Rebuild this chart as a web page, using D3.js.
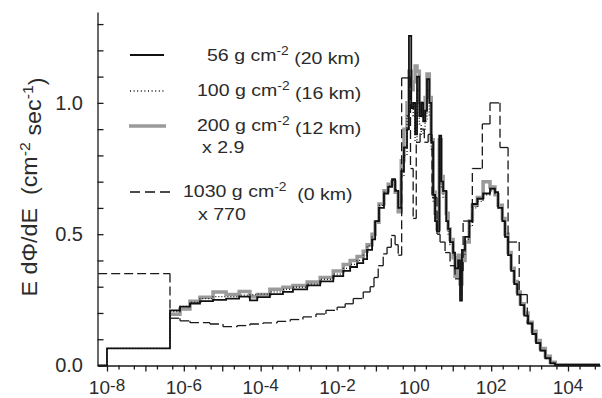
<!DOCTYPE html>
<html>
<head>
<meta charset="utf-8">
<script src="https://cdn.jsdelivr.net/npm/d3@7"></script>
<style>
  body { margin: 0; background: #fff; }
  svg { display: block; }
  text { font-family: Arial, "Liberation Sans", sans-serif; fill: #2b2b2b; white-space: pre; }
</style>
</head>
<body>
<div class="chart"></div>
<script>
// bin lower edges, log10(E / MeV), shared by the three altitude spectra
const binEdges = [-8.23, -8.00, -6.36, -6.10, -5.84, -5.58, -5.24, -4.90, -4.56, -4.28,
    -4.09, -3.76, -3.42, -3.16, -2.79, -2.45, -2.11, -1.85, -1.67, -1.49,
    -1.33, -1.23, -1.10, -1.02, -0.92, -0.79, -0.68, -0.58, -0.50, -0.42,
    -0.34, -0.27, -0.19, -0.14, -0.08, -0.03, 0.02, 0.07, 0.13, 0.18,
    0.23, 0.28, 0.33, 0.39, 0.44, 0.49, 0.54, 0.59, 0.65, 0.70,
    0.75, 0.83, 0.88, 0.93, 1.01, 1.06, 1.14, 1.19, 1.24, 1.32,
    1.43, 1.51, 1.64, 1.79, 1.97, 2.10, 2.18, 2.29, 2.36, 2.44,
    2.52, 2.60, 2.68, 2.76, 2.86, 2.96, 3.07, 3.17, 3.28, 3.41,
    3.54, 3.67];

// 56 g cm-2 (20 km)
const flux56 = [0, 0.065, 0.21, 0.224, 0.236, 0.245, 0.25, 0.255, 0.262, 0.248,
    0.26, 0.272, 0.28, 0.29, 0.305, 0.32, 0.34, 0.36, 0.375, 0.39,
    0.405, 0.44, 0.48, 0.55, 0.6, 0.655, 0.68, 0.71, 0.665, 0.6,
    0.74, 0.83, 0.9, 1.255, 0.98, 1.0, 0.88, 1.1, 0.95, 1.0,
    0.93, 0.97, 1.09, 1.0, 0.85, 0.65, 0.55, 0.51, 0.875, 0.7,
    0.665, 0.55, 0.52, 0.47, 0.43, 0.37, 0.4, 0.247, 0.44, 0.49,
    0.55, 0.615, 0.635, 0.655, 0.673, 0.66, 0.6, 0.55, 0.49, 0.42,
    0.36, 0.31, 0.27, 0.23, 0.19, 0.16, 0.12, 0.085, 0.057, 0.027,
    0.008, 0.002];

// 100 g cm-2 (16 km)
const flux100 = [0, 0.065, 0.205, 0.225, 0.24, 0.255, 0.262, 0.262, 0.268, 0.27,
    0.272, 0.28, 0.29, 0.298, 0.31, 0.328, 0.348, 0.37, 0.385, 0.4,
    0.42, 0.455, 0.49, 0.55, 0.61, 0.66, 0.685, 0.705, 0.67, 0.62,
    0.72, 0.8, 0.95, 1.1, 1.0, 0.95, 0.85, 1.05, 0.92, 0.88,
    0.9, 0.93, 1.05, 0.95, 0.82, 0.62, 0.55, 0.5, 0.82, 0.68,
    0.64, 0.55, 0.5, 0.46, 0.42, 0.37, 0.38, 0.27, 0.42, 0.48,
    0.53, 0.6, 0.625, 0.65, 0.665, 0.655, 0.6, 0.55, 0.49, 0.42,
    0.36, 0.31, 0.27, 0.23, 0.19, 0.16, 0.12, 0.085, 0.057, 0.03,
    0.01, 0.002];

// 200 g cm-2 (12 km) x 2.9
const flux200 = [null, null, 0.195, 0.215, 0.245, 0.26, 0.28, 0.27, 0.282, 0.262,
    0.27, 0.29, 0.298, 0.305, 0.318, 0.335, 0.36, 0.385, 0.4, 0.415,
    0.435, 0.46, 0.5, 0.545, 0.615, 0.665, 0.69, 0.7, 0.66, 0.585,
    0.78, 0.9, 1.0, 1.12, 1.05, 1.08, 1.14, 1.12, 1.0, 0.97,
    0.95, 1.02, 1.11, 1.02, 0.86, 0.66, 0.58, 0.52, 0.86, 0.72,
    0.66, 0.58, 0.52, 0.48, 0.41, 0.34, 0.42, 0.31, 0.4, 0.47,
    0.55, 0.61, 0.64, 0.7, 0.68, 0.65, 0.61, 0.56, 0.5, 0.43,
    0.37, 0.32, 0.28, 0.235, 0.2, 0.165, 0.13, 0.095, 0.065, 0.035,
    0.012, 0.003];

// 1030 g cm-2 (0 km) x 770, coarser binning
const binEdges1030 = [-8.23, -6.36, -6.10, -5.84, -5.32, -4.98, -4.61, -4.28, -3.94, -3.57,
    -3.23, -2.90, -2.56, -2.30, -2.01, -1.80, -1.59, -1.33, -1.15, -1.05,
    -0.94, -0.81, -0.71, -0.60, -0.50, -0.42, -0.33, -0.10, -0.03, 0.05,
    0.15, 0.26, 0.36, 0.46, 0.59, 0.67, 0.80, 0.93, 1.06, 1.19,
    1.27, 1.51, 1.77, 1.97, 2.23, 2.44, 2.73, 2.94, 3.07, 3.17,
    3.28, 3.41, 3.54, 3.67];
const flux1030 = [0.35, 0.18, 0.17, 0.163, 0.158, 0.148, 0.152, 0.158, 0.162, 0.168,
    0.175, 0.185, 0.196, 0.21, 0.222, 0.235, 0.255, 0.28, 0.30, 0.335,
    0.38, 0.425, 0.45, 0.495, 0.46, 0.42, 1.095, 0.75, 0.56, 0.85,
    0.9, 0.85, 0.88, 0.64, 0.5, 0.47, 0.43, 0.38, 0.33, 0.36,
    0.55, 0.75, 0.92, 1.0, 0.83, 0.47, 0.27, 0.16, 0.12, 0.085,
    0.057, 0.027, 0.008, 0.002];

const xDecades = [-8, -7, -6, -5, -4, -3, -2, -1, 0, 1, 2, 3, 4];
const xLabelled = [-8, -6, -4, -2, 0, 2, 4];
const yTicks = [0, 0.1, 0.2, 0.3, 0.4, 0.5, 0.6, 0.7, 0.8, 0.9, 1.0, 1.1, 1.2, 1.3];
const yLabelled = [0, 0.5, 1.0];

const legendItems = [
    {name: "56 g cm", alt: " (20 km)", note: null},
    {name: "100 g cm", alt: " (16 km)", note: null},
    {name: "200 g cm", alt: " (12 km)", note: "x 2.9"},
    {name: "1030 g cm", alt: "  (0 km)", note: "x 770"}
];

const W = 602, H = 398;
const logMin = -8.247, logMax = 4.833;

let svg = d3.select('.chart').append('svg').attr('width', W).attr('height', H);

let x = d3.scaleLog().domain([Math.pow(10, logMin), Math.pow(10, logMax)]).range([97.5, 600]);
let y = d3.scaleLinear().domain([0, 1.346]).range([365.5, 12]);
let xl = e => x(Math.pow(10, e));

function steps(edges, vals){
    let pts = edges.map((e, i) => [e, vals[i]]);
    pts.push([logMax, vals[vals.length - 1]]);
    return pts;
}

let line = d3.line()
    .defined(d => d[1] != null)
    .x(d => xl(d[0]))
    .y(d => y(d[1]))
    .curve(d3.curveStepAfter);

// gray 200 g
svg.append('path').attr('d', line(steps(binEdges, flux200)))
    .attr('fill', 'none').attr('stroke', '#9a9a9a').attr('stroke-width', 3.5);

// dashed 1030 g: each step segment dashed on its own, so short steps look solid
let pts = steps(binEdges1030, flux1030);
let segs = [];
for(let i = 0; i < pts.length - 1; i++){
    segs.push([pts[i][0], pts[i][1], pts[i+1][0], pts[i][1]]);
    if(i < pts.length - 2){
        segs.push([pts[i+1][0], pts[i][1], pts[i+1][0], pts[i+1][1]]);
    }
}
svg.append('g').selectAll('line').data(segs).enter().append('line')
    .attr('x1', d => xl(d[0])).attr('y1', d => y(d[1]))
    .attr('x2', d => xl(d[2])).attr('y2', d => y(d[3]))
    .attr('stroke', '#1a1a1a').attr('stroke-width', 1.3)
    .attr('stroke-dasharray', '9,4');

// dotted 100 g
svg.append('path').attr('d', line(steps(binEdges, flux100)))
    .attr('fill', 'none').attr('stroke', '#1a1a1a').attr('stroke-width', 1.3)
    .attr('stroke-dasharray', '1,2');

// solid 56 g
svg.append('path').attr('d', line(steps(binEdges, flux56)))
    .attr('fill', 'none').attr('stroke', '#111').attr('stroke-width', 1.8);

// axes
let yAxis = d3.axisLeft(y).tickValues(yTicks).tickSizeInner(-6).tickSizeOuter(0)
    .tickPadding(14.5)
    .tickFormat(d => yLabelled.some(v => Math.abs(v - d) < 1e-9) ? d3.format('.1f')(d) : '');
let gy = svg.append('g').attr('transform', 'translate(97.5,0)').call(yAxis);
gy.selectAll('text').style('font-size', '20px').style('fill', '#2b2b2b');

let minor = [];
xDecades.forEach(dd => { minor.push(2 * Math.pow(10, dd)); minor.push(5 * Math.pow(10, dd)); });
minor = minor.filter(v => x(v) <= 600);

let gx = svg.append('g').attr('transform', 'translate(0,365.5)');
gx.call(d3.axisBottom(x).tickValues(xDecades.map(d => Math.pow(10, d))).tickSizeInner(6)
    .tickSizeOuter(0).tickFormat(''));
gx.append('g').call(d3.axisBottom(x).tickValues(minor).tickSize(4).tickFormat(''))
    .select('.domain').remove();

svg.selectAll('.domain, .tick line').attr('stroke', '#1a1a1a').attr('stroke-width', 1.3);

let xlab = svg.append('g').selectAll('text').data(xLabelled).enter().append('text')
    .attr('x', d => xl(d)).attr('y', 394).attr('text-anchor', 'middle')
    .style('font-size', '19px');
xlab.append('tspan').text('10');
xlab.append('tspan').attr('dy', '-0.2em').style('font-size', '17px').text(d => d > 0 ? String(d) : (d === 0 ? '0' : '-' + Math.abs(d)));

// y title
let yt = svg.append('text').attr('text-anchor', 'middle')
    .attr('transform', 'translate(37,187) rotate(-90) scale(1.06,1)')
    .style('font-size', '22px');
yt.append('tspan').text('E d\u03A6/dE  (cm');
yt.append('tspan').attr('dy', '-0.5em').style('font-size', '15px').text('-2');
yt.append('tspan').attr('dy', '0.5em').text(' sec');
yt.append('tspan').attr('dy', '-0.5em').style('font-size', '15px').text('-1');
yt.append('tspan').attr('dy', '0.5em').text(')');

// legend
let legY = [55, 91, 126, 192];
let legTextX = [207, 197, 197, 183];
let legTextY = [61, 96, 131, 197];
let noteY = [null, null, 153, 219.5];
let noteX = [null, null, 202, 198];

let lg = svg.append('g');
lg.append('line').attr('x1', 130).attr('x2', 164).attr('y1', legY[0]).attr('y2', legY[0])
    .attr('stroke', '#111').attr('stroke-width', 2);
lg.append('line').attr('x1', 130).attr('x2', 164).attr('y1', legY[1]).attr('y2', legY[1])
    .attr('stroke', '#111').attr('stroke-width', 1.3).attr('stroke-dasharray', '1,2.6');
lg.append('line').attr('x1', 129).attr('x2', 166).attr('y1', legY[2]).attr('y2', legY[2])
    .attr('stroke', '#9a9a9a').attr('stroke-width', 3.5);
lg.append('line').attr('x1', 130).attr('x2', 171).attr('y1', legY[3]).attr('y2', legY[3])
    .attr('stroke', '#111').attr('stroke-width', 1.3).attr('stroke-dasharray', '10,5');

legendItems.forEach((item, i) => {
    let t = lg.append('text')
        .attr('transform', 'translate(' + legTextX[i] + ',' + legTextY[i] + ') scale(1.15,1)')
        .style('font-size', '17px');
    t.append('tspan').text(item.name);
    t.append('tspan').attr('dy', '-0.5em').style('font-size', '12px').text('-2');
    t.append('tspan').attr('dy', '0.5em').text(item.alt);
    if(item.note){
        lg.append('text')
            .attr('transform', 'translate(' + noteX[i] + ',' + noteY[i] + ') scale(1.15,1)')
            .style('font-size', '17px').text(item.note);
    }
});
</script>
</body>
</html>
